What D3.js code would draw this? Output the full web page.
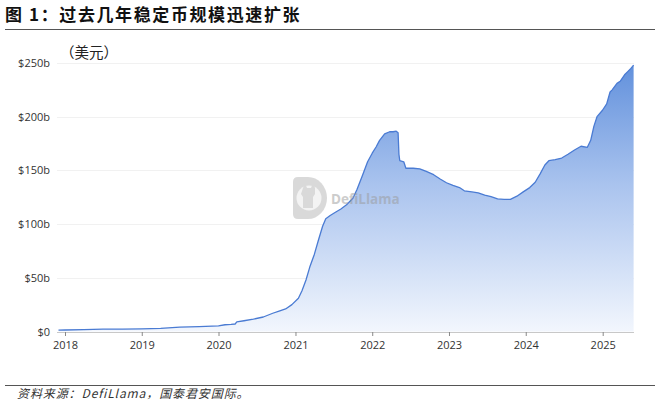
<!DOCTYPE html>
<html>
<head>
<meta charset="utf-8">
<script src="https://cdn.jsdelivr.net/npm/d3@7"></script>
<style>
  html, body { margin: 0; padding: 0; background: #fff; }
  svg { display: block; }
</style>
</head>
<body>
<svg id="chart" width="660" height="404"></svg>
<script>
// ---- data (USD billions) ----
const dates = [
  "2017-12-01","2018-01-01","2018-04-01","2018-07-01","2018-10-01","2019-01-01","2019-04-01","2019-07-01","2019-10-01",
  "2020-01-01","2020-02-01","2020-03-01","2020-03-20","2020-03-28","2020-05-01","2020-06-15","2020-08-01","2020-09-15",
  "2020-10-15","2020-11-15","2020-12-15","2021-01-15","2021-02-01","2021-02-20","2021-03-10","2021-04-01","2021-04-20",
  "2021-05-10","2021-05-25","2021-06-15","2021-07-10","2021-08-05","2021-09-01","2021-10-01","2021-10-20","2021-11-15",
  "2021-12-10","2022-01-01","2022-01-20","2022-02-05","2022-03-01","2022-03-25","2022-04-10","2022-04-25","2022-05-04",
  "2022-05-08","2022-05-12","2022-05-31","2022-06-10","2022-07-15","2022-08-15","2022-09-15","2022-10-20","2022-11-20",
  "2022-12-20","2023-01-20","2023-02-20","2023-03-15","2023-04-20","2023-05-20","2023-06-20","2023-07-20","2023-08-20",
  "2023-09-20","2023-10-20","2023-11-20","2023-12-20","2024-01-20","2024-02-15","2024-03-10","2024-04-01","2024-04-20",
  "2024-05-20","2024-06-20","2024-07-20","2024-08-20","2024-09-20","2024-10-20","2024-11-05","2024-11-20","2024-12-05",
  "2024-12-31","2025-01-20","2025-02-05","2025-02-15","2025-03-10","2025-03-25","2025-04-15","2025-04-30","2025-05-15",
  "2025-05-28"
];
const supply = [
  1.2, 1.4, 1.8, 2.2, 2.3, 2.5, 3.0, 4.0, 4.6,
  5.3, 6.3, 6.6, 7.0, 9.0, 10.0, 11.5, 13.5, 17,
  19, 21, 25, 31, 38, 48, 60, 72, 85,
  98, 105, 108, 111, 114, 118, 124, 132, 145,
  158, 166, 172, 178, 184, 186, 186, 186.5, 185,
  165, 159, 158, 152, 152, 151.5, 149, 146, 142,
  138.5, 136, 134, 131, 130, 129, 127, 125.5, 123.5,
  123, 123, 126, 130, 134, 139, 147, 155, 159,
  160, 161.5, 165, 169, 172.5, 171.5, 178, 191, 200,
  206, 212, 223, 225, 231, 233, 239, 242, 245,
  248
];
const yTicks = [0, 50, 100, 150, 200, 250];
const yTickLabels = ["$0", "$50b", "$100b", "$150b", "$200b", "$250b"];
const xYears = [2018, 2019, 2020, 2021, 2022, 2023, 2024, 2025];

const titleText = "图 1：过去几年稳定币规模迅速扩张";
const unitText = "（美元）";
const sourceText = "资料来源：DefiLlama，国泰君安国际。";

// ---- build ----
const parse = d3.utcParse("%Y-%m-%d");
const data = dates.map((d, i) => ({ date: parse(d), v: supply[i] }));

const svg = d3.select("#chart");
const sans = "'Open Sans','Noto Sans','DejaVu Sans',sans-serif";
const cjk = "'Noto Sans CJK SC','Noto Sans',sans-serif";

const x = d3.scaleUtc()
  .domain([Date.UTC(2018, 0, 1), Date.UTC(2025, 0, 1)])
  .range([65, 602.7]);
const y = d3.scaleLinear().domain([0, 250]).range([331.5, 63]);

const plotLeft = 57, plotRight = 634;

// title
svg.append("text").attr("x", 5).attr("y", 21)
  .attr("font-family", cjk).attr("font-weight", "bold").attr("font-size", 17)
  .attr("letter-spacing", 1.6)
  .attr("fill", "#111").text(titleText);
svg.append("line").attr("x1", 5).attr("x2", 655).attr("y1", 29.5).attr("y2", 29.5)
  .attr("stroke", "#555").attr("stroke-width", 1);

// grid
svg.append("g").selectAll("line").data(yTicks.filter(t => t > 0)).join("line")
  .attr("x1", plotLeft).attr("x2", plotRight)
  .attr("y1", d => Math.round(y(d)) + 0.5).attr("y2", d => Math.round(y(d)) + 0.5)
  .attr("stroke", "#f1f1f1").attr("stroke-width", 1);

// y labels
svg.append("g").selectAll("text").data(yTicks).join("text")
  .attr("x", 50).attr("y", d => y(d) + 4)
  .attr("text-anchor", "end")
  .attr("font-family", sans).attr("font-size", 11).attr("fill", "#333")
  .text((d, i) => yTickLabels[i]);

// unit
svg.append("text").attr("x", 60).attr("y", 58)
  .attr("font-family", cjk).attr("font-size", 14.5).attr("fill", "#222")
  .text(unitText);

// area gradient
const defs = svg.append("defs");
const grad = defs.append("linearGradient").attr("id", "ag")
  .attr("gradientUnits", "userSpaceOnUse")
  .attr("x1", 0).attr("x2", 0).attr("y1", y(250)).attr("y2", y(0));
grad.append("stop").attr("offset", "0%").attr("stop-color", "#6190dc");
grad.append("stop").attr("offset", "45%").attr("stop-color", "#a9c3ee");
grad.append("stop").attr("offset", "100%").attr("stop-color", "#f2f6fd");

const area = d3.area().x(d => x(d.date)).y0(y(0)).y1(d => y(d.v)).curve(d3.curveLinear);
const line = d3.line().x(d => x(d.date)).y(d => y(d.v)).curve(d3.curveLinear);

svg.append("path").datum(data).attr("d", area).attr("fill", "url(#ag)");
svg.append("path").datum(data).attr("d", line)
  .attr("fill", "none").attr("stroke", "#4a7bd3").attr("stroke-width", 1.3)
  .attr("stroke-linejoin", "round");

// watermark (drawn over the area)
const wm = svg.append("g").attr("opacity", 0.5);
wm.append("path")
  .attr("d", "M293,182 q0,-5 5,-5 h10 a19,21 0 0 1 0,42 h-10 q-5,0 -5,-5 z")
  .attr("fill", "#b5b5b5");
wm.append("circle").attr("cx", 309).attr("cy", 198).attr("r", 12.5).attr("fill", "#e8e8e8");
wm.append("path")
  .attr("d", "M303,188 l2,-5 l2,5 h4 l2,-5 l2,5 v6 l-2,3 v11 h-10 v-11 l-2,-3 z")
  .attr("fill", "#b5b5b5");
wm.append("text").attr("x", 331).attr("y", 204)
  .attr("font-family", sans).attr("font-weight", "bold").attr("font-size", 13.5)
  .attr("fill", "#9a9a9a").text("DefiLlama");

// x axis
const xAxis = d3.axisBottom(x)
  .tickValues(xYears.map(yr => new Date(Date.UTC(yr, 0, 1))))
  .tickFormat(d3.utcFormat("%Y"))
  .tickSize(4).tickSizeOuter(0);
const gx = svg.append("g").attr("transform", `translate(0,${332})`).call(xAxis);
gx.select(".domain").attr("d", `M${plotLeft},0.5H${plotRight}`).attr("stroke", "#c8c8c8");
gx.selectAll(".tick line").attr("stroke", "#888");
gx.selectAll(".tick text").attr("font-family", sans).attr("font-size", 11)
  .attr("fill", "#333").attr("dy", "0.9em");

// footer
svg.append("line").attr("x1", 5).attr("x2", 655).attr("y1", 385.5).attr("y2", 385.5)
  .attr("stroke", "#555").attr("stroke-width", 1);
svg.append("text").attr("x", 17).attr("y", 398)
  .attr("font-family", cjk).attr("font-style", "italic").attr("font-size", 12)
  .attr("letter-spacing", 0.9)
  .attr("fill", "#333").text(sourceText);
</script>
</body>
</html>
